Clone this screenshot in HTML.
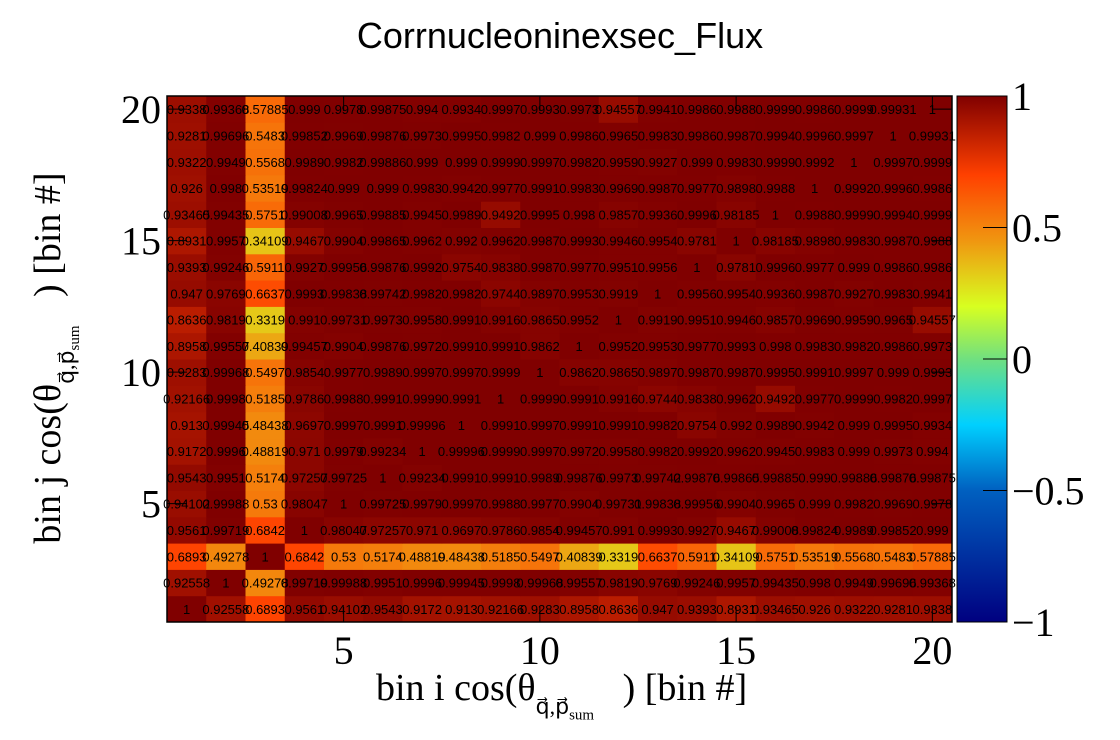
<!DOCTYPE html>
<html><head><meta charset="utf-8"><style>
body{margin:0;background:#fff;}
#wrap{position:relative;width:1120px;height:740px;overflow:hidden;background:#fff;font-family:"Liberation Serif",serif;}
.t{position:absolute;white-space:nowrap;}
</style></head><body>
<div id="wrap">
<div class="t" style="left:0;width:1120px;text-align:center;top:15px;font:36px 'Liberation Sans',sans-serif;">Corrnucleoninexsec_Flux</div>
<svg id="svg" width="1120" height="740" style="position:absolute;left:0;top:0"></svg>
<div class="t" style="left:376px;top:666px;font-size:38px;">bin i cos(θ<span style="font-size:22px;position:relative;top:14px;">q⃗,p⃗<sub style="font-size:15px">sum</sub></span>&nbsp;&nbsp;&nbsp;) [bin #]</div>
<div class="t" style="left:48px;top:358px;font-size:38px;transform:translate(-50%,-50%) rotate(-90deg);">bin j cos(θ<span style="font-size:22px;position:relative;top:14px;">q⃗,p⃗<sub style="font-size:15px">sum</sub></span>&nbsp;&nbsp;&nbsp;) [bin #]</div>
</div>
<script>
const xBins=[1,2,3,4,5,6,7,8,9,10,11,12,13,14,15,16,17,18,19,20];
const xTicks=[5,10,15,20];
const yTicks=[5,10,15,20];
const zTicks=[1,0.5,0,-0.5,-1];
const zTickLabels=["1","0.5","0","−0.5","−1"];
const rows=[
[1,.92558,.68930,.95610,.94102,.95430,.91720,.91300,.92166,.92830,.89580,.86360,.94700,.93930,.89310,.93465,.92600,.93220,.92810,.93380],
[.92558,1,.49278,.99719,.99988,.99510,.99960,.99945,.99980,.99968,.99557,.98190,.97690,.99246,.99570,.99435,.99800,.99490,.99696,.99368],
[.68930,.49278,1,.68420,.53000,.51740,.48819,.48438,.51850,.54970,.40839,.33190,.66370,.59110,.34109,.57510,.53519,.55680,.54830,.57885],
[.95610,.99719,.68420,1,.98047,.97257,.97100,.96970,.97860,.98540,.99457,.99100,.99930,.99270,.94670,.99008,.99824,.99890,.99852,.99900],
[.94102,.99988,.53000,.98047,1,.99725,.99790,.99970,.99880,.99770,.99040,.99731,.99838,.99956,.99040,.99650,.99900,.99820,.99690,.99780],
[.95430,.99510,.51740,.97257,.99725,1,.99234,.99910,.99910,.99890,.99876,.99730,.99742,.99876,.99865,.99885,.99900,.99886,.99876,.99875],
[.91720,.99960,.48819,.97100,.99790,.99234,1,.99996,.99990,.99970,.99720,.99580,.99820,.99920,.99620,.99450,.99830,.99900,.99730,.99400],
[.91300,.99945,.48438,.96970,.99970,.99910,.99996,1,.99910,.99970,.99910,.99910,.99820,.97540,.99200,.99890,.99420,.99900,.99950,.99340],
[.92166,.99980,.51850,.97860,.99880,.99910,.99990,.99910,1,.99990,.99910,.99160,.97440,.98380,.99620,.94920,.99770,.99990,.99820,.99970],
[.92830,.99968,.54970,.98540,.99770,.99890,.99970,.99970,.99990,1,.98620,.98650,.98970,.99870,.99870,.99950,.99910,.99970,.99900,.99930],
[.89580,.99557,.40839,.99457,.99040,.99876,.99720,.99910,.99910,.98620,1,.99520,.99530,.99770,.99930,.99800,.99830,.99820,.99860,.99730],
[.86360,.98190,.33190,.99100,.99731,.99730,.99580,.99910,.99160,.98650,.99520,1,.99190,.99510,.99460,.98570,.99690,.99590,.99650,.94557],
[.94700,.97690,.66370,.99930,.99838,.99742,.99820,.99820,.97440,.98970,.99530,.99190,1,.99560,.99540,.99360,.99870,.99270,.99830,.99410],
[.93930,.99246,.59110,.99270,.99956,.99876,.99920,.97540,.98380,.99870,.99770,.99510,.99560,1,.97810,.99960,.99770,.99900,.99860,.99860],
[.89310,.99570,.34109,.94670,.99040,.99865,.99620,.99200,.99620,.99870,.99930,.99460,.99540,.97810,1,.98185,.98980,.99830,.99870,.99880],
[.93465,.99435,.57510,.99008,.99650,.99885,.99450,.99890,.94920,.99950,.99800,.98570,.99360,.99960,.98185,1,.99880,.99990,.99940,.99990],
[.92600,.99800,.53519,.99824,.99900,.99900,.99830,.99420,.99770,.99910,.99830,.99690,.99870,.99770,.98980,.99880,1,.99920,.99960,.99860],
[.93220,.99490,.55680,.99890,.99820,.99886,.99900,.99900,.99990,.99970,.99820,.99590,.99270,.99900,.99830,.99990,.99920,1,.99970,.99990],
[.92810,.99696,.54830,.99852,.99690,.99876,.99730,.99950,.99820,.99900,.99860,.99650,.99830,.99860,.99870,.99940,.99960,.99970,1,.99931],
[.93380,.99368,.57885,.99900,.99780,.99875,.99400,.99340,.99970,.99930,.99730,.94557,.99410,.99860,.99880,.99990,.99860,.99990,.99931,1]
];
const X0=167,X1=952,Y0=96,Y1=622;
function sx(v){return X0+(v-0.5)/20*(X1-X0);}
function sy(v){return Y1-(v-0.5)/20*(Y1-Y0);}
function sz(v){return Y1-(v+1)/2*(Y1-Y0);}
const stops=[[-1,[0,0,128]],[-0.5,[0,96,192]],[-0.25,[0,208,255]],[0,[112,224,128]],[0.2,[216,255,32]],[0.45,[240,150,16]],[0.7,[255,64,0]],[1,[128,0,0]]];
function col(v){for(let k=1;k<stops.length;k++){if(v<=stops[k][0]){const a=stops[k-1],b=stops[k],t=(v-a[0])/(b[0]-a[0]);const c=a[1].map((x,i)=>Math.round(x+(b[1][i]-x)*t));return `rgb(${c})`;}}return 'rgb(128,0,0)';}
const NS='http://www.w3.org/2000/svg';const svg=document.getElementById('svg');
function mk(tag,at,p){const e=document.createElementNS(NS,tag);for(const k in at)e.setAttribute(k,at[k]);(p||svg).appendChild(e);return e;}
const w=(X1-X0)/20,h=(Y1-Y0)/20;
rows.forEach((r,j)=>{r.forEach((v,i)=>{
 const rc=mk('rect',{x:sx(xBins[i])-w/2,y:sy(j+1)-h/2,width:w+0.5,height:h+0.5,fill:col(v)});
 
 
});});
rows.forEach((r,j)=>{r.forEach((v,i)=>{
 const t=mk('text',{x:sx(xBins[i]),y:sy(j+1)+5,'text-anchor':'middle','font-size':'13','font-family':'Liberation Sans,sans-serif',fill:'#000'});
 t.textContent=v===1?'1':String(v);
 
 
});});
mk('rect',{x:X0,y:Y0,width:X1-X0,height:Y1-Y0,fill:'none',stroke:'#000','stroke-width':1.5});
xTicks.forEach(v=>{mk('line',{x1:sx(v),x2:sx(v),y1:Y1,y2:Y1-15,stroke:'#000'});mk('line',{x1:sx(v),x2:sx(v),y1:Y0,y2:Y0+15,stroke:'#000'});
 const t=mk('text',{x:sx(v),y:664,'text-anchor':'middle','font-size':'40','font-family':'Liberation Serif,serif'});t.textContent=v;
 });
yTicks.forEach(v=>{mk('line',{x1:X0,x2:X0+20,y1:sy(v),y2:sy(v),stroke:'#000'});mk('line',{x1:X1,x2:X1-20,y1:sy(v),y2:sy(v),stroke:'#000'});
 const t=mk('text',{x:X0-6,y:sy(v)+14,'text-anchor':'end','font-size':'40','font-family':'Liberation Serif,serif'});t.textContent=v;
 });
const defs=mk('defs',{});const g=mk('linearGradient',{id:'pal',x1:0,y1:1,x2:0,y2:0},defs);
stops.forEach(s=>mk('stop',{offset:(s[0]+1)/2,'stop-color':`rgb(${s[1]})`},g));
const pb=mk('rect',{x:957,y:Y0,width:50,height:Y1-Y0,fill:'url(#pal)',stroke:'#000'});

zTicks.forEach((v,k)=>{mk('line',{x1:983,x2:1007,y1:sz(v),y2:sz(v),stroke:'#000'});
 const t=mk('text',{x:1012,y:sz(v)+14,'font-size':'40','font-family':'Liberation Serif,serif'});t.textContent=zTickLabels[k];
 });
</script>
</body></html>
